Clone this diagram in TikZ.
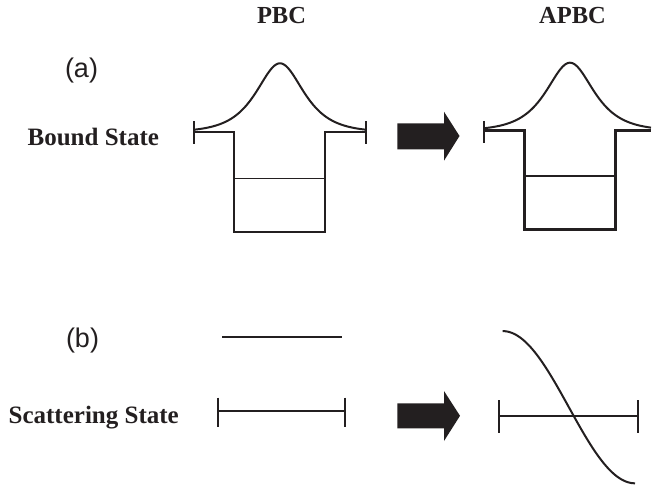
\documentclass[tikz,border=0pt]{standalone}
\usepackage{fontspec}
\setmainfont{Liberation Serif}
\newfontfamily\labsans{Liberation Sans}
\definecolor{ink}{RGB}{35,31,32}
\begin{document}
\begin{tikzpicture}[x=1pt,y=-1pt,
  thick line/.style={draw=ink,line width=2.2pt,line join=miter},
  thin line/.style={draw=ink,line width=1.2pt},
  curve line/.style={draw=ink,line width=2pt},
  head/.style={font=\fontsize{24.5}{29}\selectfont\bfseries,text=ink,inner sep=0pt,anchor=base},
  side/.style={font=\fontsize{25}{30}\selectfont\bfseries,text=ink,inner sep=0pt,anchor=base},
  tag/.style={font=\labsans\fontsize{27}{32}\selectfont,text=ink,inner sep=0pt,anchor=base},
  bigarrow/.style={fill=ink,draw=none}]
\useasboundingbox (0,0) rectangle (656,492);

% titles
\node[head] (pbc) at (281.5,24) {PBC};
\node[head] (apbc) at (572.5,23.3) {APBC};
\node[tag] (a) at (81.5,77.7) {(a)};
\node[tag] (b) at (82.5,347.7) {(b)};
\node[side] (bound) at (93.3,145.7) {Bound State};
\node[side] (scat) at (93.7,423) {Scattering State};

% ---- (a) PBC bound state
\draw[thick line] (194,121.5) -- (194,144.5);
\draw[thick line] (366,121.5) -- (366,144.5);
\draw[thick line] (194,132) -- (234,132) -- (234,232) -- (325,232) -- (325,132) -- (366,132);
\draw[thin line] (234,178.3) -- (325,178.3);
\draw[curve line] plot[domain=-86:86,samples=120,smooth] ({280+\x},{132-68.7/cosh(\x/21)});

% ---- (a) APBC bound state
\draw[thick line] (484.3,121) -- (484.3,143.5);
\draw[thick line] (484.3,130.5) -- (524.5,130.5) -- (524.5,229.5) -- (615.5,229.5) -- (615.5,130.5) -- (651,130.5);
\draw[thin line] (524.5,176) -- (615.5,176);
\draw[curve line] plot[domain=-86:81,samples=120,smooth] ({570+\x},{130.5-67.8/cosh(\x/21)});

% ---- arrows
\fill[bigarrow] (397.3,123.3) -- (444,123.3) -- (444,111.7) -- (459.5,136) -- (444,160.7) -- (444,149.3) -- (397.3,149.3) -- cycle;
\fill[bigarrow] (397.3,403.3) -- (444,403.3) -- (444,391) -- (460,415.8) -- (444,441) -- (444,428.3) -- (397.3,428.3) -- cycle;

% ---- (b) PBC scattering state
\draw[curve line] (222,336.7) -- (342.3,336.7);
\draw[curve line] (218.3,397.7) -- (218.3,427.3);
\draw[curve line] (345,397.7) -- (345,427.3);
\draw[curve line] (218.3,410.7) -- (345,410.7);

% ---- (b) APBC scattering state
\draw[curve line] (499.3,400) -- (499.3,433.3);
\draw[curve line] (637.7,400) -- (637.7,433.3);
\draw[curve line] (499.3,415.7) -- (637.7,415.7);
\draw[curve line] plot[domain=0:180,samples=120,smooth] ({502.7+\x/180*132.3},{407.2-76.1*cos(\x)});
\end{tikzpicture}
\end{document}
